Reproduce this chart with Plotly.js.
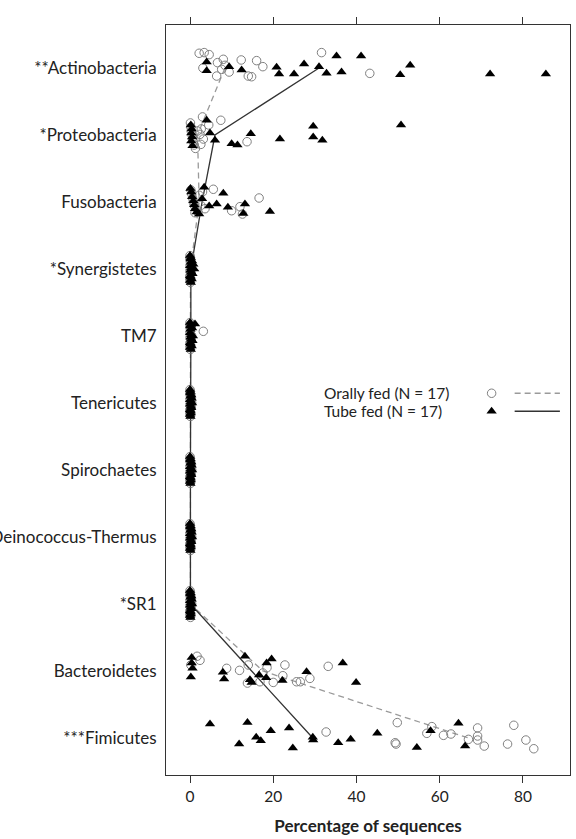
<!DOCTYPE html>
<html>
<head>
<meta charset="utf-8">
<script src="https://cdn.plot.ly/plotly-3.0.1.min.js"></script>
<style>html,body{margin:0;padding:0;background:#fff;}#chart{width:576px;height:839px;}</style>
</head>
<body>
<div id="chart"></div>
<script>
// Phylum categories, top to bottom
const categories = ["**Actinobacteria", "*Proteobacteria", "Fusobacteria", "*Synergistetes", "TM7",
  "Tenericutes", "Spirochaetes", "Deinococcus-Thermus", "*SR1", "Bacteroidetes", "***Fimicutes"];
const xTicks = [0, 20, 40, 60, 80];

// Percentage of sequences per subject, orally fed group (N = 17)
const oralActino = [2.2,3.4,4.6,3.1,6.6,8.0,7.6,6.4,9.4,12.3,14.0,14.8,16.0,17.5,31.6,43.2,8.4];
const oralProteo = [0.1,0.2,0.3,0.5,0.6,0.8,1.0,1.3,1.8,2.4,2.6,2.7,3.0,3.2,4.5,7.4,13.7];
const oralFuso = [0.2,0.4,0.6,0.8,1.0,1.2,1.5,1.9,2.2,2.6,3.0,3.6,5.6,10.0,12.0,12.6,16.6];
const oralSyn = [0,0,0,0,0,0,0,0.1,0.1,0.1,0.1,0.2,0.2,0.2,0.3,0.3,0.4];
const oralTM7 = [0,0,0,0,0,0,0.1,0.1,0.1,0.1,0.2,0.2,0.2,0.3,0.3,0.4,3.2];
const oralTener = [0,0,0,0,0,0,0,0.1,0.1,0.1,0.1,0.2,0.2,0.2,0.3,0.3,0.4];
const oralSpiro = [0,0,0,0,0,0,0,0.1,0.1,0.1,0.1,0.2,0.2,0.2,0.3,0.3,0.4];
const oralDeino = [0,0,0,0,0,0,0,0.1,0.1,0.1,0.1,0.2,0.2,0.2,0.3,0.3,0.4];
const oralSR1 = [0,0,0,0,0,0,0,0.1,0.1,0.1,0.1,0.2,0.2,0.2,0.3,0.3,0.4];
const oralBact = [0.2,1.7,2.4,8.8,11.9,13.8,14.0,16.8,17.5,18.5,20.0,22.3,22.8,25.6,26.5,28.8,33.2];
const oralFirm = [32.7,49.8,49.3,49.5,56.9,58.1,60.9,62.7,66.9,69.1,69.1,69.1,70.7,76.3,77.8,80.7,82.6];

// Percentage of sequences per subject, tube fed group (N = 17)
const tubeActino = [4.0,4.0,9.4,12.4,20.8,21.4,25.0,27.4,31.0,32.8,35.2,36.4,41.1,52.9,50.5,72.1,85.5];
const tubeProteo = [0.2,0.4,0.3,0.5,0.3,0.6,4.0,4.8,6.0,10.0,11.4,14.6,21.6,29.6,29.6,31.8,50.7];
const tubeFuso = [0.1,0.3,0.5,0.8,1.0,1.2,1.6,2.2,2.9,3.4,4.6,6.4,8.0,9.1,12.8,13.2,19.2];
const tubeSyn = [0,0,0,0,0.1,0.1,0.1,0.2,0.2,0.2,0.3,0.3,0.4,0.5,0.6,0.8,1.0];
const tubeTM7 = [0,0,0,0,0,0.1,0.1,0.1,0.2,0.2,0.3,0.3,0.4,0.5,0.6,0.7,1.2];
const tubeTener = [0,0,0,0,0,0,0.1,0.1,0.1,0.1,0.2,0.2,0.2,0.3,0.3,0.4,0.5];
const tubeSpiro = [0,0,0,0,0,0,0.1,0.1,0.1,0.1,0.2,0.2,0.2,0.3,0.3,0.4,0.5];
const tubeDeino = [0,0,0,0,0,0,0.1,0.1,0.1,0.1,0.2,0.2,0.2,0.3,0.3,0.4,0.5];
const tubeSR1 = [0,0,0,0,0,0,0.1,0.1,0.1,0.1,0.2,0.2,0.2,0.3,0.3,0.4,0.5];
const tubeBact = [0.4,0.4,0.2,0.6,7.9,8.2,13.2,14.4,14.8,16.6,18.4,19.6,18.3,22.2,28.0,36.7,39.9];
const tubeFirm = [4.8,13.8,11.8,15.9,17.0,19.4,23.8,24.7,29.5,29.6,35.6,38.6,45.0,54.5,57.8,64.5,66.1];

// Vertical jitter of each subject's point (fraction of the category spacing)
const zeroJit = [-0.20,0.10,-0.05,0.17,-0.15,0.02,0.12,-0.10,0.20,-0.17,0.05,-0.02,0.15,-0.12,0.07,-0.07,0.0];
const oralActinoJit = [-0.22,-0.23,-0.20,0.00,-0.08,-0.13,0.02,0.12,0.06,-0.12,0.12,0.13,-0.11,-0.02,-0.23,0.08,-0.04];
const oralProteoJit = [-0.18,-0.12,-0.06,0.0,0.05,0.10,0.15,0.20,-0.06,-0.01,0.14,-0.09,-0.27,0.06,-0.15,-0.22,0.10];
const oralFusoJit = [-0.18,-0.12,-0.06,0.0,0.05,0.16,0.10,0.15,-0.10,0.05,-0.15,0.10,-0.19,0.13,0.07,0.18,-0.06];
const oralTM7Jit = [-0.20,0.10,-0.05,0.17,-0.15,0.02,0.12,-0.10,0.20,-0.17,0.05,-0.02,0.15,-0.12,0.07,0.0,-0.07];
const oralBactJit = [-0.09,-0.22,-0.16,-0.04,-0.01,0.18,-0.09,0.16,0.03,-0.05,0.17,0.07,-0.09,0.16,0.16,0.11,-0.07];
const oralFirmJit = [-0.09,-0.23,0.07,0.09,-0.07,-0.17,-0.04,-0.06,0.02,-0.15,-0.03,0.03,0.12,0.09,-0.19,0.03,0.16];
const tubeActinoJit = [-0.09,0.04,-0.02,0.03,-0.01,0.09,0.09,-0.06,-0.02,0.08,-0.18,0.06,-0.18,-0.04,0.10,0.09,0.09];
const tubeProteoJit = [-0.15,-0.09,-0.03,0.03,0.09,0.16,-0.22,-0.03,0.08,0.13,0.15,-0.02,0.06,-0.13,0.03,0.08,-0.15];
const tubeFusoJit = [-0.20,-0.15,-0.08,-0.02,0.04,0.10,0.15,0.18,-0.05,-0.22,0.06,0.03,-0.13,0.08,0.17,0.03,0.14];
const tubeTM7Jit = [-0.20,0.10,-0.05,0.17,-0.15,0.02,0.12,-0.10,0.20,-0.17,0.05,-0.02,0.15,-0.12,0.07,0.0,-0.18];
const tubeBactJit = [-0.20,-0.12,0.09,-0.04,0.02,0.12,-0.22,0.13,0.17,0.06,-0.12,-0.18,0.10,0.14,0.01,-0.12,0.17];
const tubeFirmJit = [-0.21,-0.23,0.09,-0.01,0.04,-0.11,-0.15,0.15,-0.01,0.03,0.07,0.02,-0.07,0.14,-0.11,-0.22,0.12];

const oralSeries = [oralActino, oralProteo, oralFuso, oralSyn, oralTM7, oralTener, oralSpiro, oralDeino, oralSR1, oralBact, oralFirm];
const oralJits = [oralActinoJit, oralProteoJit, oralFusoJit, zeroJit, oralTM7Jit, zeroJit, zeroJit, zeroJit, zeroJit, oralBactJit, oralFirmJit];
const tubeSeries = [tubeActino, tubeProteo, tubeFuso, tubeSyn, tubeTM7, tubeTener, tubeSpiro, tubeDeino, tubeSR1, tubeBact, tubeFirm];
const tubeJits = [tubeActinoJit, tubeProteoJit, tubeFusoJit, zeroJit, tubeTM7Jit, zeroJit, zeroJit, zeroJit, zeroJit, tubeBactJit, tubeFirmJit];

function median(a) {
  const s = a.slice().sort((p, q) => p - q);
  const m = Math.floor(s.length / 2);
  return s.length % 2 ? s[m] : (s[m - 1] + s[m]) / 2;
}
function flatten(series, jits) {
  const xs = [], ys = [];
  series.forEach((vals, i) => vals.forEach((v, j) => { xs.push(v); ys.push(i + jits[i][j]); }));
  return {x: xs, y: ys};
}
const catIdx = categories.map((c, i) => i);
const oralPts = flatten(oralSeries, oralJits);
const tubePts = flatten(tubeSeries, tubeJits);

const FONT = "Lato, 'Open Sans', sans-serif";

const traces = [
  {type: 'scatter', mode: 'lines', x: oralSeries.map(median), y: catIdx,
   line: {color: '#9a9a9a', width: 1.3, dash: '6px,4px'}, hoverinfo: 'skip', showlegend: false},
  {type: 'scatter', mode: 'lines', x: tubeSeries.map(median), y: catIdx,
   line: {color: '#333333', width: 1.3}, hoverinfo: 'skip', showlegend: false},
  {type: 'scatter', mode: 'markers', x: oralPts.x, y: oralPts.y, showlegend: false,
   marker: {symbol: 'circle-open', size: 8.5, color: '#808080', line: {width: 1, color: '#808080'}}},
  {type: 'scatter', mode: 'markers', x: tubePts.x, y: tubePts.y, showlegend: false,
   marker: {symbol: 'triangle-up', size: 9, color: '#000000', line: {width: 0}}},
  // legend samples in paper-like overlay axes
  {type: 'scatter', mode: 'markers', x: [0.806], y: [0.509], xaxis: 'x2', yaxis: 'y2', showlegend: false, hoverinfo: 'skip',
   marker: {symbol: 'circle-open', size: 8.5, color: '#808080', line: {width: 1, color: '#808080'}}},
  {type: 'scatter', mode: 'markers', x: [0.806], y: [0.485], xaxis: 'x2', yaxis: 'y2', showlegend: false, hoverinfo: 'skip',
   marker: {symbol: 'triangle-up', size: 9, color: '#000000'}},
  {type: 'scatter', mode: 'lines', x: [0.863, 0.975], y: [0.509, 0.509], xaxis: 'x2', yaxis: 'y2', showlegend: false, hoverinfo: 'skip',
   line: {color: '#9a9a9a', width: 1.3, dash: '6px,4px'}},
  {type: 'scatter', mode: 'lines', x: [0.863, 0.975], y: [0.485, 0.485], xaxis: 'x2', yaxis: 'y2', showlegend: false, hoverinfo: 'skip',
   line: {color: '#333333', width: 1.3}}
];

const layout = {
  width: 576, height: 839,
  margin: {l: 166, r: 6, t: 25, b: 64},
  paper_bgcolor: '#ffffff', plot_bgcolor: '#ffffff',
  font: {family: FONT, size: 16, color: '#222222'},
  showlegend: false,
  xaxis: {
    range: [-5.77, 91.3], tickvals: xTicks, ticktext: xTicks.map(String),
    ticks: 'outside', ticklen: 7, tickwidth: 1, tickcolor: '#333',
    showline: true, linecolor: '#333', linewidth: 1, mirror: 'ticks',
    showgrid: false, zeroline: false,
    tickfont: {family: FONT, size: 15.5, color: '#222'},
    title: {text: 'Percentage of sequences', font: {family: FONT, size: 17, color: '#222', weight: 'bold'}, standoff: 16}
  },
  yaxis: {
    range: [10.552, -0.642], tickvals: catIdx, ticktext: categories,
    ticks: '', showline: true, linecolor: '#333', linewidth: 1, mirror: true,
    showgrid: false, zeroline: false, ticklabelstandoff: 5,
    tickfont: {family: FONT, size: 17, color: '#222'}
  },
  xaxis2: {overlaying: 'x', range: [0, 1], visible: false, fixedrange: true},
  yaxis2: {overlaying: 'y', range: [0, 1], visible: false, fixedrange: true},
  annotations: [
    {xref: 'paper', yref: 'paper', x: 0.385, y: 0.509, xanchor: 'left', yanchor: 'middle', showarrow: false,
     text: 'Orally fed (N = 17)', font: {family: FONT, size: 15.5, color: '#222'}},
    {xref: 'paper', yref: 'paper', x: 0.385, y: 0.485, xanchor: 'left', yanchor: 'middle', showarrow: false,
     text: 'Tube fed (N = 17)', font: {family: FONT, size: 15.5, color: '#222'}}
  ]
};

Plotly.newPlot('chart', traces, layout, {displayModeBar: false, staticPlot: true});
</script>
</body>
</html>
